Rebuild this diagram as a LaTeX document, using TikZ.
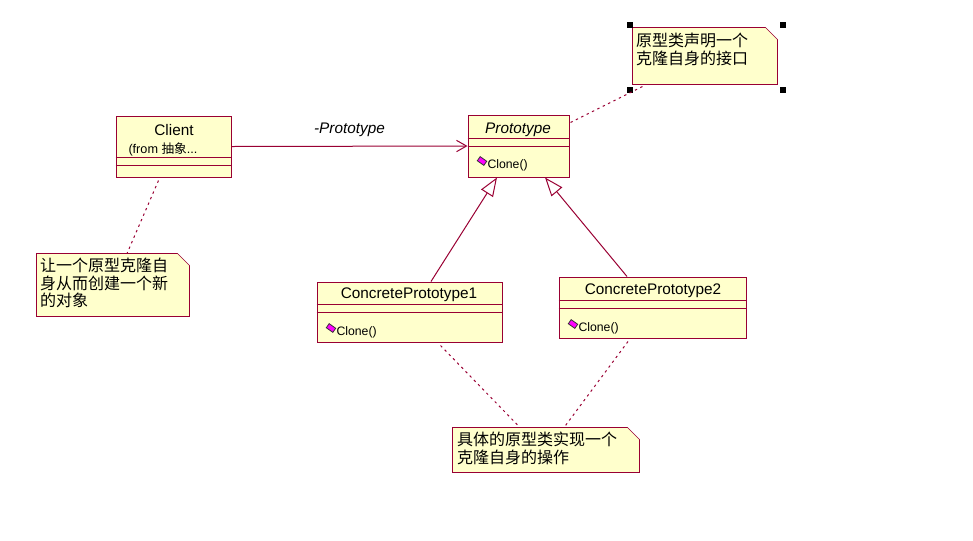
\documentclass[tikz,border=0pt]{standalone}
\usepackage{fontspec}
\setmainfont{Liberation Sans}
\newfontfamily\cjk{Noto Sans CJK SC}
\usetikzlibrary{arrows.meta, calc, backgrounds}
\definecolor{cborder}{HTML}{990033}
\definecolor{cfill}{HTML}{FFFFCC}
\definecolor{cicon}{HTML}{FF00FF}
\newcommand{\pxu}{0.75pt}
\tikzset{
  every picture/.style={line width=0.75pt},
  classbox/.style={draw=cborder, fill=cfill, inner sep=0pt},
  notebox/.style={inner sep=0pt},
  clsname/.style={font=\fontsize{11.5}{13}\selectfont, inner sep=0pt},
  fromtext/.style={font=\fontsize{9.5}{11}\selectfont, inner sep=0pt},
  optext/.style={font=\fontsize{9.2}{11}\selectfont, inner sep=0pt},
  opicon/.style={draw=black!80, fill=cicon, line width=0.6pt, inner sep=0pt,
    minimum width=8*\pxu, minimum height=5*\pxu, rotate=-35},
  notetext/.style={font=\cjk\fontsize{12}{13.2}\selectfont, align=left, inner sep=0pt},
  assoc/.style={draw=cborder, -{Straight Barb[length=7.5pt, width=8.5pt]}},
  gener/.style={draw=cborder, -{Triangle[open, length=14pt, width=10.5pt]}},
  anchorline/.style={draw=cborder, dash pattern=on 1.8pt off 2.7pt},
}

\begin{document}
\begin{tikzpicture}[x=\pxu, y=-\pxu]
  \useasboundingbox (0,0) rectangle (973,540);
  \node[classbox, minimum width=115*\pxu, minimum height=61*\pxu] (client) at (173.5,146.5) {};
  \node[clsname] (clientname) at (174,130) {Client};
  \node[fromtext, anchor=west] (clientfrom) at (128,149) {(from {\cjk 抽象}...};
  \node[classbox, minimum width=101*\pxu, minimum height=62*\pxu] (proto) at (518.5,146) {};
  \node[clsname, font=\fontsize{11.5}{13}\selectfont\itshape] (protoname) at (518,130) {Prototype};
  \node[opicon] (protoicon) at (482,161) {};
  \node[optext, anchor=west] (protoop) at (487,165) {Clone()};
  \node[classbox, minimum width=185*\pxu, minimum height=60*\pxu] (cpa) at (409.5,312) {};
  \node[clsname] (cpaname) at (409,295) {ConcretePrototype1};
  \node[opicon] (cpaicon) at (331,328) {};
  \node[optext, anchor=west] (cpaop) at (336,332) {Clone()};
  \node[classbox, minimum width=187*\pxu, minimum height=61*\pxu] (cpb) at (652.5,307.5) {};
  \node[clsname] (cpbname) at (653,291) {ConcretePrototype2};
  \node[opicon] (cpbicon) at (573,324) {};
  \node[optext, anchor=west] (cpbop) at (578,328) {Clone()};
  \foreach \c/\a/\b in {client/42/50, proto/24/32, cpa/23/31, cpb/24/32} {
    \draw[cborder] ($(\c.north west)+(0,\a)$) -- ($(\c.north east)+(0,\a)$);
    \draw[cborder] ($(\c.north west)+(0,\b)$) -- ($(\c.north east)+(0,\b)$);
  }
  \node[notebox, minimum width=144*\pxu, minimum height=56*\pxu] (notetop) at (705,56) {};
  \node[notebox, minimum width=152*\pxu, minimum height=62*\pxu] (noteleft) at (113,285) {};
  \node[notebox, minimum width=186*\pxu, minimum height=44*\pxu] (notebot) at (546,450) {};
  \begin{scope}[on background layer]
    \foreach \n in {notetop, noteleft, notebot} {
      \filldraw[draw=cborder, fill=cfill] (\n.north west) -- ($(\n.north east)+(-12,0)$)
        -- ($(\n.north east)+(0,12)$) -- (\n.south east) -- (\n.south west) -- cycle;
    }
  \end{scope}
  \node[notetext, anchor=north west] (notetoptxt) at ($(notetop.north west)+(3,5)$) {原型类声明一个\\克隆自身的接口};
  \node[notetext, anchor=north west] (notelefttxt) at ($(noteleft.north west)+(3,4)$) {让一个原型克隆自\\身从而创建一个新\\的对象};
  \node[notetext, anchor=north west] (notebottxt) at ($(notebot.north west)+(4,4)$) {具体的原型类实现一个\\克隆自身的操作};
  \foreach \c/\dx/\dy in {north west/-3/-3, north east/5/-3, south west/-3/5, south east/5/5}
    \fill ($(notetop.\c)+(\dx,\dy)$) ++(-3,-3) rectangle ++(6,6);
  \draw[assoc] (client.east) -- (proto.west)
    node[midway, above=7pt, font=\fontsize{11.5}{13}\selectfont\itshape, inner sep=0pt] (assoclabel) {-Prototype};
  \draw[gener] ($(cpa.north)+(21.5,0)$) -- ($(proto.south)+(-21.5,0)$);
  \draw[gener] ($(cpb.north)+(-25.5,0)$) -- ($(proto.south)+(26.5,0)$);
  \draw[anchorline] ($(client.south)+(-15,3)$) -- ($(noteleft.north)+(14,0)$);
  \draw[anchorline] ($(proto.north east)+(1,8)$) -- ($(notetop.south west)+(10,2)$);
  \draw[anchorline] ($(cpa.south)+(31,3)$) -- ($(notebot.north)+(-26,0)$);
  \draw[anchorline] ($(cpb.south)+(-24.5,3)$) -- ($(notebot.north)+(18,0)$);
\end{tikzpicture}
\end{document}
